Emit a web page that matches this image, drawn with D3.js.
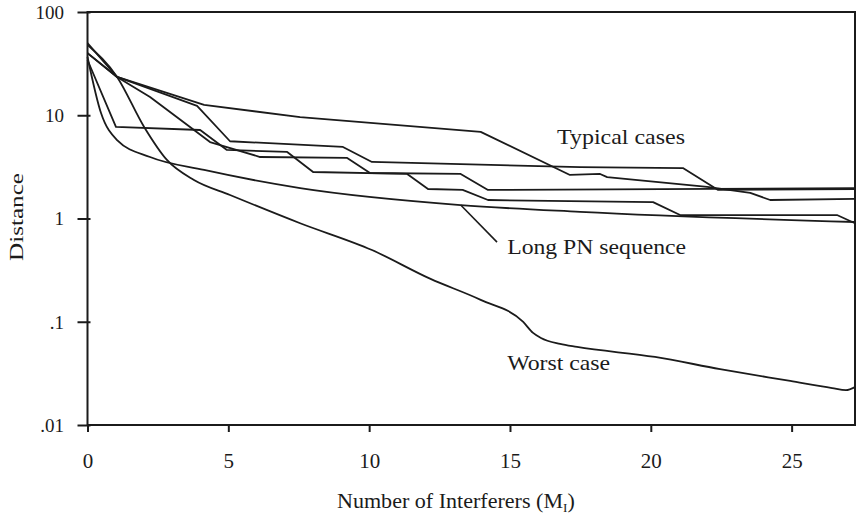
<!DOCTYPE html>
<html>
<head>
<meta charset="utf-8">
<script src="https://cdn.jsdelivr.net/npm/d3@7"></script>
<style>
  body { margin: 0; background: #fff; }
  svg { display: block; font-family: 'Liberation Serif', 'Times New Roman', serif; }
</style>
</head>
<body>
<div id="chart"></div>
<script>
// tick values / labels
const xTicks = [0, 5, 10, 15, 20, 25];
const yTicks = [0.01, 0.1, 1, 10, 100];
const yTickLabels = ['.01', '.1', '1', '10', '100'];

// curves: [interferers, distance]
const typicalA = [[0, 50], [1.05, 23.5], [4.14, 12.6], [7.55, 9.6], [13.96, 6.9], [17.13, 2.64], [18.2, 2.7], [18.45, 2.52], [22.0, 2.02], [23.53, 1.77], [24.24, 1.51], [27.25, 1.55]];
const typicalB = [[0, 40], [1.05, 23.5], [3.89, 12.3], [5.06, 5.6], [9.07, 4.93], [10.1, 3.53], [17.49, 3.15], [21.14, 3.08], [22.39, 1.89], [27.25, 1.93]];
const typicalC = [[0, 34.3], [1.01, 7.7], [4.0, 7.2], [4.95, 4.61], [7.09, 4.41], [8.01, 2.82], [11.35, 2.7], [12.09, 1.93], [13.32, 1.89], [14.22, 1.51], [20.08, 1.44], [21.04, 1.08], [26.61, 1.08], [27.25, 0.9]];
const typicalD = [[0, 40], [1.05, 23.5], [2.22, 15.0], [4.35, 5.5], [6.13, 3.94], [9.22, 3.86], [10.03, 2.76], [13.25, 2.7], [14.22, 1.89], [27.25, 1.97]];
const longPN = [[0, 36.7], [0.48, 10.5], [1.05, 5.75], [2.22, 3.94], [4.14, 2.95], [7.55, 1.97], [13.25, 1.35], [17.49, 1.16], [27.25, 0.925]];
const worstCase = [[0, 48], [1.05, 23.5], [2.01, 7.7], [2.82, 3.69], [3.78, 2.36], [5.06, 1.69], [7.55, 0.9], [10.1, 0.495], [12.18, 0.26], [13.96, 0.163], [15.47, 0.0995], [15.82, 0.078], [16.1, 0.0697], [16.78, 0.061], [17.38, 0.057], [20.15, 0.0456], [22.46, 0.0348], [24.95, 0.0267], [26.44, 0.0228], [26.93, 0.0218], [27.25, 0.0233]];

// annotation anchors (data coords)
const pnPointer = [[13.25, 1.35], [14.54, 0.59]];

const width = 856, height = 517;
const ink = '#1b1b1b';

const svg = d3.select('#chart').append('svg')
    .attr('width', width)
    .attr('height', height);

const x = d3.scaleLinear().domain([0, 27.25]).range([87.5, 855]);
const y = d3.scaleLog().domain([0.01, 100]).range([425, 12]);

// frame
svg.append('rect')
    .attr('x', x(0))
    .attr('y', y(100))
    .attr('width', x(27.25) - x(0))
    .attr('height', y(0.01) - y(100))
    .attr('fill', 'none')
    .attr('stroke', ink)
    .attr('stroke-width', 2);

// x axis
const xAxisG = svg.append('g')
    .attr('transform', `translate(0,${y(0.01)})`)
    .call(d3.axisBottom(x).tickValues(xTicks).tickSize(7).tickSizeOuter(0));
xAxisG.select('.domain').remove();
xAxisG.selectAll('.tick line').attr('stroke', ink).attr('stroke-width', 2);
xAxisG.selectAll('.tick text')
    .attr('y', 43)
    .attr('dy', 0)
    .attr('fill', ink)
    .style('font-size', '21px')
    .style('font-family', "'Liberation Serif', serif");

// y axis
const yAxisG = svg.append('g')
    .attr('transform', `translate(${x(0)},0)`)
    .call(d3.axisLeft(y).tickValues(yTicks).tickSize(10).tickSizeOuter(0)
        .tickFormat(d => yTickLabels[yTicks.indexOf(d)]));
yAxisG.select('.domain').remove();
yAxisG.selectAll('.tick line').attr('x1', 3).attr('stroke', ink).attr('stroke-width', 2);
yAxisG.selectAll('.tick text')
    .attr('x', -23.5)
    .attr('dy', '0.34em')
    .attr('fill', ink)
    .style('font-size', '19px')
    .style('font-family', "'Liberation Serif', serif");

// curves
const straight = d3.line().x(d => x(d[0])).y(d => y(d[1]));
const smooth = d3.line().x(d => x(d[0])).y(d => y(d[1])).curve(d3.curveMonotoneX);

const marks = svg.append('g')
    .attr('fill', 'none')
    .attr('stroke', ink)
    .attr('stroke-width', 1.8)
    .attr('stroke-linejoin', 'round');

[typicalA, typicalB, typicalC, typicalD].forEach(s => {
    marks.append('path').attr('d', straight(s));
});
marks.append('path').attr('d', smooth(longPN));
marks.append('path').attr('d', smooth(worstCase));
marks.append('path').attr('d', straight(pnPointer)).attr('stroke-width', 1.6);

// annotations
const label = (txt, xv, yv, len) => svg.append('text')
    .attr('x', x(xv))
    .attr('y', y(yv))
    .attr('fill', ink)
    .attr('textLength', len)
    .attr('lengthAdjust', 'spacingAndGlyphs')
    .style('font-size', '21px')
    .text(txt);

label('Typical cases', 16.67, 5.27, 128);
label('Long PN sequence', 14.9, 0.453, 179);
label('Worst case', 14.9, 0.0341, 103);

// axis titles
svg.append('text')
    .attr('transform', 'translate(23,217) rotate(-90)')
    .attr('text-anchor', 'middle')
    .attr('fill', ink)
    .attr('textLength', 88)
    .attr('lengthAdjust', 'spacingAndGlyphs')
    .style('font-size', '19px')
    .text('Distance');

const xTitle = svg.append('text')
    .attr('x', 337)
    .attr('y', 508)
    .attr('fill', ink)
    .style('font-size', '20px');
xTitle.append('tspan').text('Number of Interferers (M');
xTitle.append('tspan').attr('dy', 4).style('font-size', '12px').text('I');
xTitle.append('tspan').attr('dy', -4).text(')');

// stretch x title to the reference width
const w = xTitle.node().getBBox().width;
xTitle.attr('transform', `translate(337,0) scale(${238 / w},1) translate(-337,0)`);
</script>
</body>
</html>
